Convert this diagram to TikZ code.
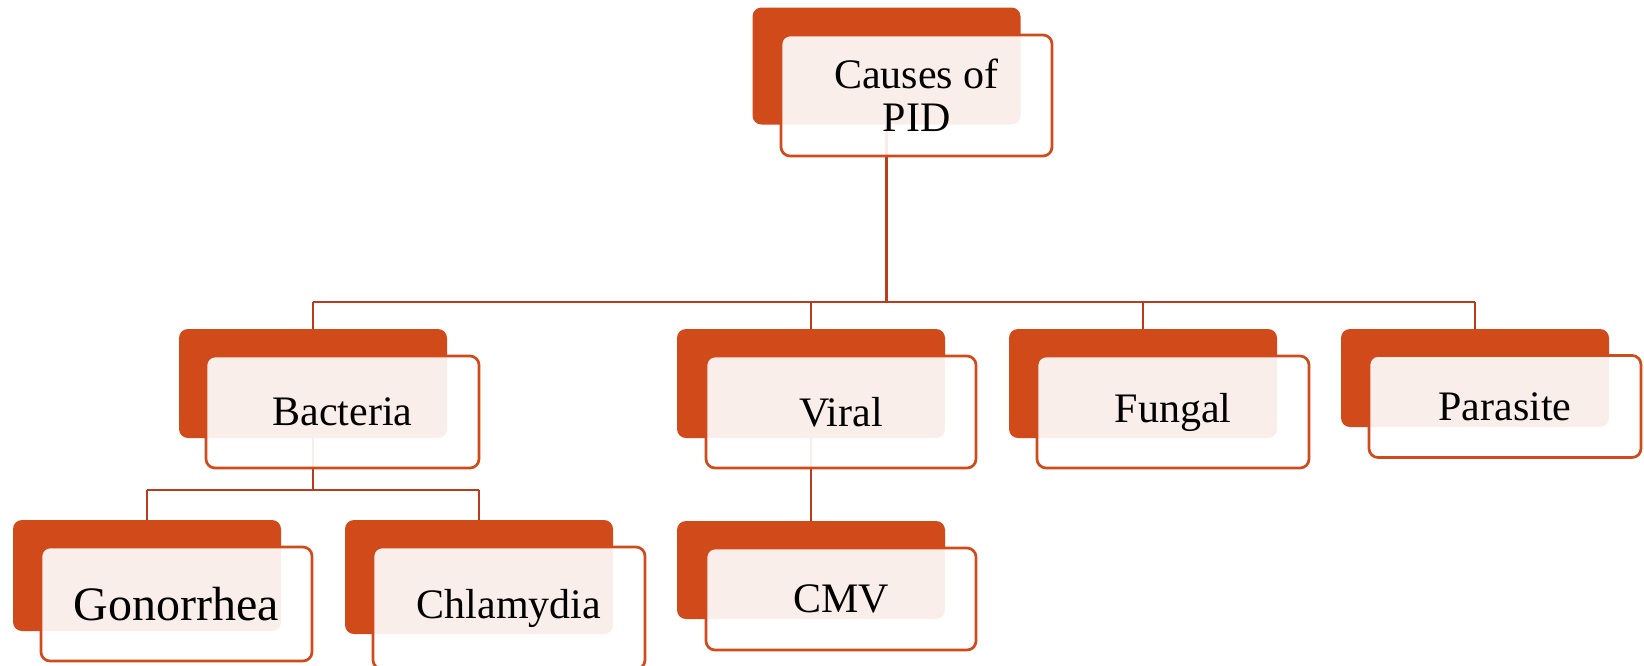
\documentclass[tikz,border=0pt]{standalone}
\usepackage{fontspec}
\setmainfont{Liberation Serif}
\definecolor{pidorange}{RGB}{209,74,26}
\definecolor{pidline}{RGB}{185,60,28}
\tikzset{
  backbox/.style={draw=none, fill=pidorange, rounded corners=9pt, inner sep=0pt},
  frontbox/.style={draw=pidorange, line width=2.7pt, fill=white, fill opacity=0.91, text opacity=1, rounded corners=9pt, inner sep=0pt, align=center, font=\fontsize{42}{43}\selectfont},
  conn/.style={draw=pidline, line width=2.6pt}
}
\begin{document}
\begin{tikzpicture}[x=1pt,y=-1pt]
\useasboundingbox (0,0) rectangle (1644,665);
% back boxes
\node[backbox, minimum width=268pt, minimum height=117pt] (rootB) at (886.5,66) {};
\node[backbox, minimum width=268pt, minimum height=109pt] (bacB) at (313,383.5) {};
\node[backbox, minimum width=268pt, minimum height=109pt] (virB) at (811,383.5) {};
\node[backbox, minimum width=268pt, minimum height=109pt] (funB) at (1143,383.5) {};
\node[backbox, minimum width=268pt, minimum height=98pt] (parB) at (1475,378) {};
\node[backbox, minimum width=268pt, minimum height=111pt] (gonB) at (147,575.5) {};
\node[backbox, minimum width=268pt, minimum height=114pt] (chlB) at (479,577) {};
\node[backbox, minimum width=268pt, minimum height=98pt] (cmvB) at (811,570) {};
% connectors
\coordinate (busR) at (886.5,302);
\coordinate (busBac) at (313,302);
\coordinate (busVir) at (811,302);
\coordinate (busFun) at (1143,302);
\coordinate (busPar) at (1475,302);
\coordinate (subM) at (313,490);
\coordinate (subG) at (147,490);
\coordinate (subC) at (479,490);
\draw[conn] (rootB.south) -- (busR);
\draw[conn] (busBac) -- (busPar);
\draw[conn] (busBac) -- (bacB.north);
\draw[conn] (busVir) -- (virB.north);
\draw[conn] (busFun) -- (funB.north);
\draw[conn] (busPar) -- (parB.north);
\draw[conn] (bacB.south) -- (subM);
\draw[conn] (subG) -- (subC);
\draw[conn] (subG) -- (gonB.north);
\draw[conn] (subC) -- (chlB.north);
\draw[conn] (virB.south) -- (cmvB.north);
% front boxes
\node[frontbox, minimum width=271pt, minimum height=121pt] (root) at (916.5,95.5) {Causes of\\PID};
\node[frontbox, minimum width=273pt, minimum height=112pt] (bac) at (342.5,412) {Bacteria};
\node[frontbox, minimum width=270pt, minimum height=112pt] (vir) at (841,412) {Viral};
\node[frontbox, minimum width=272pt, minimum height=112pt] (fun) at (1173,412) {Fungal};
\node[frontbox, minimum width=272pt, minimum height=102pt] (par) at (1505,406.5) {Parasite};
\node[frontbox, minimum width=271pt, minimum height=114pt, font=\fontsize{48}{50}\selectfont] (gon) at (176.5,604) {Gonorrhea};
\node[frontbox, minimum width=272pt, minimum height=122pt] (chl) at (509,608) {Chlamydia};
\node[frontbox, minimum width=270pt, minimum height=102pt] (cmv) at (841,599) {CMV};
\end{tikzpicture}
\end{document}
